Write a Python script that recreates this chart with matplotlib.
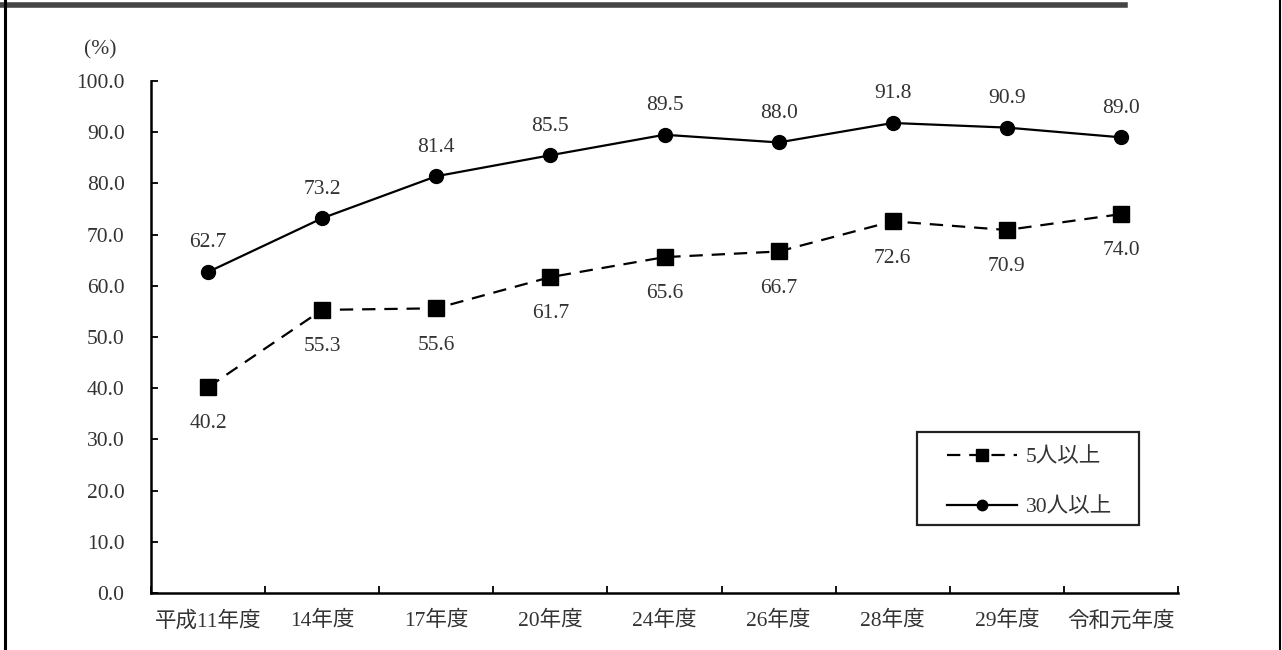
import matplotlib.pyplot as plt
from matplotlib.lines import Line2D
from matplotlib.patches import Rectangle
from matplotlib.ticker import FixedLocator
import numpy as np

plt.rcParams['font.family'] = ['Liberation Serif', 'Noto Sans CJK JP']

years = ['平成11年度', '14年度', '17年度', '20年度', '24年度', '26年度', '28年度', '29年度', '令和元年度']
over5 = [40.2, 55.3, 55.6, 61.7, 65.6, 66.7, 72.6, 70.9, 74.0]
over30 = [62.7, 73.2, 81.4, 85.5, 89.5, 88.0, 91.8, 90.9, 89.0]
names = ['5人以上', '30人以上']

W, H = 1282, 650
txt = '#333333'
fs = 15.5
fig = plt.figure(figsize=(W / 100, H / 100), dpi=100)
ax = fig.add_axes([151 / W, 57 / H, 1027 / W, 512 / H])

x = np.arange(len(years))
ax.plot(x, over5, color='black', lw=1.6, ls=(0, (6, 4)), marker='s', ms=11.5, label=names[0])
ax.plot(x, over30, color='black', lw=1.6, marker='o', ms=10, label=names[1])

for i in x:
    ax.annotate(f'{over5[i]:.1f}', (i, over5[i]), xytext=(0, -26.5), textcoords='offset points',
                ha='center', va='center', fontsize=fs, color=txt)
    ax.annotate(f'{over30[i]:.1f}', (i, over30[i]), xytext=(0, 21), textcoords='offset points',
                ha='center', va='center', fontsize=fs, color=txt)

ax.set_xlim(-0.5, len(years) - 0.5)
ax.set_ylim(0, 100)
ax.set_yticks(np.arange(0, 101, 10))
ax.set_yticklabels([f'{v:.1f}' for v in range(0, 101, 10)], fontsize=fs, color=txt)
ax.set_xticks(x)
ax.set_xticklabels(years, fontsize=fs, color=txt)
ax.tick_params(axis='x', which='major', length=0, pad=13)
ax.xaxis.set_minor_locator(FixedLocator(np.arange(-0.5, len(years), 1.0)))
ax.tick_params(axis='x', which='minor', direction='in', length=5, width=1.3)
ax.tick_params(axis='y', direction='in', length=5, width=1.3, pad=19)
for s in ['top', 'right']:
    ax.spines[s].set_visible(False)
for s in ['left', 'bottom']:
    ax.spines[s].set_linewidth(1.8)

fig.text(100 / W, 1 - 50 / H, '(%)', ha='center', va='center', fontsize=fs, color=txt)

# legend without its own frame, box drawn separately (wider padding than legend allows)
leg = fig.legend(loc='upper left', bbox_to_anchor=(947 / W, 1 - 447 / H),
                 frameon=False, fontsize=fs, handlelength=3.25, markerscale=0.75,
                 labelspacing=1.4, borderpad=0, borderaxespad=0, handletextpad=0.4)
for t in leg.get_texts():
    t.set_color(txt)
fig.add_artist(Rectangle((917 / W, 1 - 525 / H), 222 / W, 93 / H, transform=fig.transFigure,
                         fill=False, edgecolor='#222222', lw=1.6))

# frame around the figure
fig.add_artist(Line2D([0, 1125 / W], [1 - 4.5 / H, 1 - 4.5 / H], color='#444444', lw=4))
fig.add_artist(Line2D([5 / W, 5 / W], [0, 1], color='black', lw=2.2))
fig.add_artist(Line2D([1279.5 / W, 1279.5 / W], [0, 1], color='black', lw=1.5))

fig.savefig('out.png', dpi=100)
